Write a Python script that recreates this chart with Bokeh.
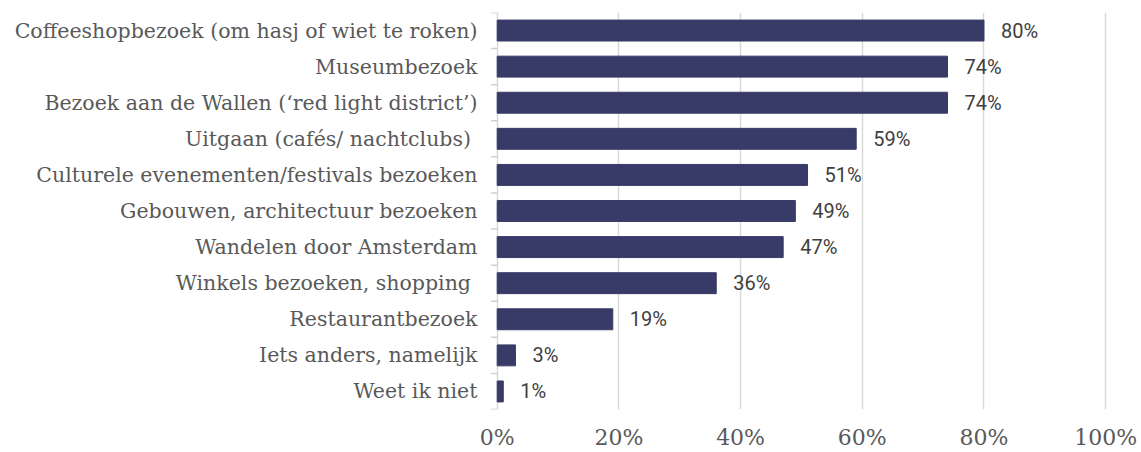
from bokeh.plotting import figure
from bokeh.models import ColumnDataSource, FactorRange, Range1d, FixedTicker, PrintfTickFormatter
from bokeh.core.properties import value
from bokeh.embed import file_html
from bokeh.resources import INLINE

categories = [
    "Coffeeshopbezoek (om hasj of wiet te roken)",
    "Museumbezoek",
    "Bezoek aan de Wallen (\u2018red light district\u2019)",
    "Uitgaan (caf\u00e9s/ nachtclubs) ",
    "Culturele evenementen/festivals bezoeken",
    "Gebouwen, architectuur bezoeken",
    "Wandelen door Amsterdam",
    "Winkels bezoeken, shopping ",
    "Restaurantbezoek",
    "Iets anders, namelijk",
    "Weet ik niet",
]
values = [80, 74, 74, 59, 51, 49, 47, 36, 19, 3, 1]
value_labels = ["80%", "74%", "74%", "59%", "51%", "49%", "47%", "36%", "19%", "3%", "1%"]
x_ticks = [0, 20, 40, 60, 80, 100]

BAR = "#383b67"
GRID = "#d9d9d9"

factors = list(reversed(categories))
src = ColumnDataSource(dict(cat=categories, val=values, lab=value_labels))

p = figure(
    width=1141, height=452,
    y_range=FactorRange(factors=factors, range_padding=0),
    x_range=Range1d(-1.1, 100.3),
    output_backend="svg", toolbar_location=None,
    min_border_left=490, min_border_right=34, min_border_top=12, min_border_bottom=41,
)
p.outline_line_color = None
p.background_fill_color = "white"
p.border_fill_color = "white"

p.hbar(y="cat", right="val", left=0, height=0.58, source=src,
       fill_color=BAR, line_color=BAR)

p.text(x="val", y="cat", text="lab", source=src, x_offset=17,
       text_font=value("Roboto"), text_font_size="20px",
       text_color="#404040", text_baseline="middle", text_align="left")

# category boundary ticks (Excel style)
n = len(categories)
bounds = list(range(n + 1))
p.segment(x0=[-1.0] * (n + 1), x1=[0] * (n + 1), y0=bounds, y1=bounds,
          line_color="#cfcfcf", line_width=1.5)

# x axis
p.xaxis.ticker = FixedTicker(ticks=x_ticks)
p.xaxis.formatter = PrintfTickFormatter(format="%d%%")
p.xaxis.axis_line_color = None
p.xaxis.major_tick_line_color = None
p.xaxis.minor_tick_line_color = None
p.xaxis.major_tick_out = 0
p.xaxis.major_label_standoff = 15
p.xaxis.major_label_text_font = "DejaVu Serif"
p.xaxis.major_label_text_font_size = "22px"
p.xaxis.major_label_text_color = "#595959"

p.xgrid.ticker = FixedTicker(ticks=x_ticks)
p.xgrid.grid_line_color = GRID
p.xgrid.grid_line_width = 1.5
p.ygrid.grid_line_color = None

# y axis
p.yaxis.axis_line_color = None
p.yaxis.major_tick_line_color = None
p.yaxis.minor_tick_line_color = None
p.yaxis.major_tick_out = 0
p.yaxis.major_label_standoff = 13
p.yaxis.major_label_text_font = "DejaVu Serif"
p.yaxis.major_label_text_font_size = "20.5px"
p.yaxis.major_label_text_color = "#595959"

open("out.html", "w").write(file_html(p, INLINE))
